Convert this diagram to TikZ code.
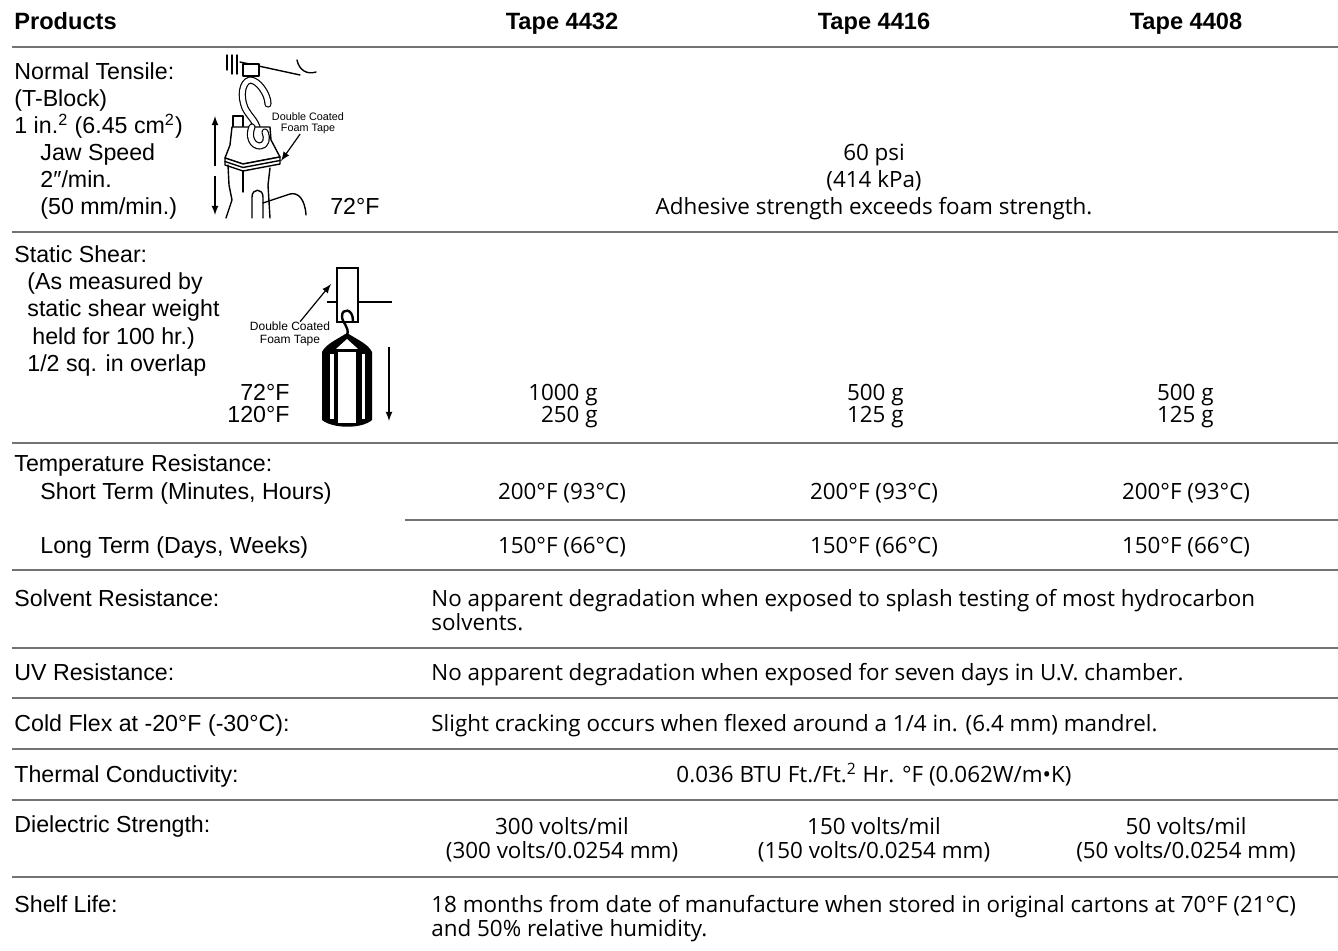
\documentclass[tikz,border=0pt]{standalone}
\usepackage{fontspec}
\setmainfont{Liberation Sans}
\newfontfamily\valuefont{Open Sans}
\usetikzlibrary{positioning}

\tikzstyle{every node}=[inner sep=0pt]
\tikzstyle{head}=[anchor=base, font=\bfseries\fontsize{11.8}{14}\selectfont]
\tikzstyle{prop}=[anchor=base west, font=\fontsize{11.6}{14}\selectfont]
\tikzstyle{val}=[anchor=base, font=\valuefont\fontsize{11.2}{13}\selectfont]
\tikzstyle{rowline}=[draw=black!55, line width=0.8pt]
\tikzstyle{tapelabel}=[align=center, font=\fontsize{5.4}{5.6}\selectfont]
\tikzstyle{pull}=[-latex, line width=0.6pt]
\tikzstyle{jig}=[line width=0.7pt, line join=round, line cap=round]

\begin{document}
\begin{tikzpicture}[x=0.5pt, y=-0.5pt]
  \useasboundingbox (0,0) rectangle (1338,951);

  % header
  \node[head, anchor=base west] (products) at (14,30)   {Products};
  \node[head]                   (t4432)    at (562,30)  {Tape 4432};
  \node[head]                   (t4416)    at (874,30)  {Tape 4416};
  \node[head]                   (t4408)    at (1186,30) {Tape 4408};

  % rules
  \draw[rowline, line width=1.2pt] (12,47) -- (1338,47);
  \foreach \y in {232,443,570,648,698,749,800,877}
    \draw[rowline] (12,\y) -- (1338,\y);
  \draw[rowline] (405,520) -- (1338,520);

  % normal tensile
  \node[prop] (nt1) at (14,80)  {Normal Tensile:};
  \node[prop] (nt2) at (14,107) {(T-Block)};
  \node[prop] (nt3) at (14,134) {1 in.\textsuperscript{2} (6.45 cm\textsuperscript{2})};
  \node[prop] (nt4) at (40,161) {Jaw Speed};
  \node[prop] (nt5) at (40,188) {2″/min.};
  \node[prop] (nt6) at (40,215) {(50 mm/min.)};
  \node[prop, anchor=base east] (nt7) at (380,215) {72°F};
  \node[val] (psi) at (874,161) {60 psi};
  \node[val] (kpa) at (874,188) {(414 kPa)};
  \node[val] (adh) at (874,215) {Adhesive strength exceeds foam strength.};

  % T-block jig
  \begin{scope}[jig]
    \draw (227,55) -- (227,70) (232,55) -- (232,74) (237,55) -- (237,74);
    \draw (240,62) -- (300,75);
    \draw (297,60) .. controls (299,70) and (307,75) .. (316,72);
    \draw[fill=white] (243,64) rectangle (259,76);
    \draw[double=white, double distance=2.4pt, line width=0.6pt]
      (268,104) .. controls (268,94) and (258,80) .. (250,80)
      .. controls (242,82) and (240,96) .. (245,108)
      .. controls (250,118) and (258,122) .. (258,134);
    \draw[fill=white] (233,116) rectangle (243,128);
    \draw[fill=white] (232,127) -- (270,127) -- (271,140) -- (280,157) -- (243,164) -- (225,158) -- (230,145) -- cycle;
    \draw[double=white, double distance=2.4pt, line width=0.6pt]
      (252,127) .. controls (248,136) and (252,146) .. (260,146)
      .. controls (266,146) and (268,138) .. (265,132);
    \draw[fill=white] (225,158) -- (243,164) -- (280,157) -- (280,164) -- (243,171) -- (225,165) -- cycle;
    \draw (225,161.5) -- (243,167.5) -- (280,160.5);
    \draw (228,165) -- (229,185) -- (232,200) -- (226,218);
    \draw (270,168) -- (268,185) -- (270,218);
    \draw (243,171) -- (243,192);
    \draw (252,218) -- (252,197) .. controls (252,188) and (263,188) .. (263,197) -- (263,218);
    \draw (263,203) -- (290,194) .. controls (298,192) and (305,199) .. (306,215);
  \end{scope}
  \draw[pull] (215,166) -- (215,116);
  \draw[pull] (215,176) -- (215,215);
  \node[tapelabel] (tapeA) at (308,123) {Double Coated\\Foam Tape};
  \coordinate (tapeAend) at (281,161);
  \draw[pull] (tapeA) -- (tapeAend);

  % static shear
  \node[prop] (ss1) at (14,263) {Static Shear:};
  \node[prop] (ss2) at (27,290) {(As measured by};
  \node[prop] (ss3) at (27,317) {static shear weight};
  \node[prop] (ss4) at (32,345) {held for 100 hr.)};
  \node[prop] (ss5) at (27,372) {1/2 sq. in overlap};
  \node[prop, anchor=base east] (ss6) at (290,401) {72°F};
  \node[prop, anchor=base east] (ss7) at (290,423) {120°F};
  \node[val, anchor=base east] (ssa1) at (598,401)  {1000 g};
  \node[val, anchor=base east] (ssa2) at (598,423)  {250 g};
  \node[val, anchor=base east] (ssb1) at (904,401)  {500 g};
  \node[val, anchor=base east] (ssb2) at (904,423)  {125 g};
  \node[val, anchor=base east] (ssc1) at (1214,401) {500 g};
  \node[val, anchor=base east] (ssc2) at (1214,423) {125 g};

  % hanging weight
  \draw[line width=0.8pt] (327,302) -- (392,302);
  \draw[line width=0.9pt, fill=white] (337,268) rectangle (358,322);
  \fill (347,333) .. controls (358,340) and (368,344) .. (372,352) -- (372,420)
    .. controls (362,429) and (333,429) .. (322,420) -- (322,352)
    .. controls (326,344) and (336,340) .. cycle;
  \fill[white] (347,339) -- (358,349) -- (336,349) -- cycle;
  \fill[white] (330,354) rectangle (334,419);
  \fill[white] (338,352) rectangle (356,423);
  \fill[white] (362,354) rectangle (365,419);
  \draw[line width=1.2pt] (353,321) .. controls (353,308) and (342,308) .. (342,316)
    .. controls (342,324) and (350,326) .. (347,336);
  \draw[pull] (389,347) -- (389,421);
  \node[tapelabel, font=\fontsize{6}{6.3}\selectfont] (tapeB) at (290,334) {Double Coated\\Foam Tape};
  \coordinate (tapeBend) at (331,284);
  \draw[pull] (tapeB) -- (tapeBend);

  % temperature resistance
  \node[prop] (tr1) at (14,472) {Temperature Resistance:};
  \node[prop] (tr2) at (40,500) {Short Term (Minutes, Hours)};
  \node[prop] (tr3) at (40,553) {Long Term (Days, Weeks)};
  \foreach \x/\n in {562/a,874/b,1186/c} {
    \node[val] (short\n) at (\x,500) {200°F (93°C)};
    \node[val] (long\n)  at (\x,553) {150°F (66°C)};
  }

  % single value rows
  \node[prop] (solvent) at (14,606) {Solvent Resistance:};
  \node[val, anchor=base west] (solv1) at (431,606) {No apparent degradation when exposed to splash testing of most hydrocarbon};
  \node[val, anchor=base west] (solv2) at (431,631) {solvents.};

  \node[prop] (uv) at (14,680) {UV Resistance:};
  \node[val, anchor=base west] (uvval) at (431,680) {No apparent degradation when exposed for seven days in U.V. chamber.};

  \node[prop] (cold) at (14,731) {Cold Flex at -20°F (-30°C):};
  \node[val, anchor=base west] (coldval) at (431,731) {Slight cracking occurs when flexed around a 1/4 in. (6.4 mm) mandrel.};

  \node[prop] (thermal) at (14,782) {Thermal Conductivity:};
  \node[val] (thermval) at (874,782) {0.036 BTU Ft./Ft.\textsuperscript{2} Hr. °F (0.062W/m•K)};

  % dielectric
  \node[prop] (diel) at (14,832) {Dielectric Strength:};
  \foreach \x/\v/\n in {562/300/a,874/150/b,1186/50/c} {
    \node[val] (die\n)  at (\x,834) {\v\ volts/mil};
    \node[val] (diem\n) at (\x,858) {(\v\ volts/0.0254 mm)};
  }

  % shelf life
  \node[prop] (shelf) at (14,912) {Shelf Life:};
  \node[val, anchor=base west] (shelf1) at (431,912) {18 months from date of manufacture when stored in original cartons at 70°F (21°C)};
  \node[val, anchor=base west] (shelf2) at (431,936) {and 50\% relative humidity.};
\end{tikzpicture}
\end{document}
